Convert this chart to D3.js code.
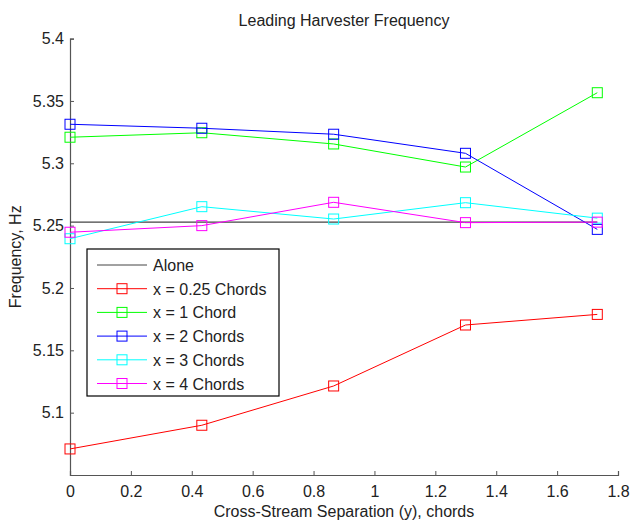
<!DOCTYPE html>
<html>
<head>
<meta charset="utf-8">
<script src="https://cdn.jsdelivr.net/npm/d3@7"></script>
<style>
  body { margin: 0; background: #fff; }
  text { font-family: "Liberation Sans", Arial, sans-serif; fill: #222; }
</style>
</head>
<body>
<div id="chart"></div>
<script>
// Data
const separation = [0, 0.433, 0.866, 1.299, 1.732];
const alone = 5.2528;
const seriesNames = ["x = 0.25 Chords", "x = 1 Chord", "x = 2 Chords", "x = 3 Chords", "x = 4 Chords"];
const seriesColors = ["#ff0000", "#00ff00", "#0000ff", "#00ffff", "#ff00ff"];
const x025 = [5.0709, 5.0899, 5.1214, 5.1703, 5.1788];
const x1 = [5.3209, 5.3245, 5.3155, 5.2970, 5.3566];
const x2 = [5.3313, 5.3281, 5.3233, 5.3080, 5.2470];
const x3 = [5.2395, 5.2652, 5.2553, 5.2684, 5.2560];
const x4 = [5.2447, 5.2500, 5.2687, 5.2524, 5.2528];
const seriesValues = [x025, x1, x2, x3, x4];
const xTicks = [0, 0.2, 0.4, 0.6, 0.8, 1, 1.2, 1.4, 1.6, 1.8];
const yTicks = [5.1, 5.15, 5.2, 5.25, 5.3, 5.35, 5.4];

// Dimensions
const W = 634, H = 523;
const margin = { top: 38.6, right: 16, bottom: 48, left: 70 };
const width = W - margin.left - margin.right;
const height = H - margin.top - margin.bottom;
const fontSize = "16px";

const svg = d3.select("#chart").append("svg")
    .attr("width", W)
    .attr("height", H);

const g = svg.append("g")
    .attr("transform", `translate(${margin.left},${margin.top})`);

// Scales
const x = d3.scaleLinear().domain([0, 1.8]).range([0, width]);
const y = d3.scaleLinear().domain([5.05, 5.4]).range([height, 0]);

// Axes (ticks pointing inward, MATLAB style)
const xAxis = g.append("g")
    .attr("transform", `translate(0,${height})`)
    .call(d3.axisBottom(x).tickValues(xTicks).tickSize(-4).tickPadding(8)
        .tickFormat(d => d3.format("~g")(d)));
const yAxis = g.append("g")
    .call(d3.axisLeft(y).tickValues(yTicks).tickSize(-4).tickPadding(6)
        .tickFormat(d => d3.format("~g")(d)));

[xAxis, yAxis].forEach(a => {
    a.select(".domain").attr("stroke", "#555").attr("stroke-width", 1.2);
    a.selectAll(".tick line").attr("stroke", "#555");
    a.selectAll(".tick text").style("font-size", fontSize).attr("fill", "#222");
});
xAxis.selectAll(".tick text").attr("dy", "0.85em");

// Alone reference line
g.append("line")
    .attr("x1", x(separation[0]))
    .attr("x2", x(separation[separation.length - 1]))
    .attr("y1", y(alone))
    .attr("y2", y(alone))
    .attr("stroke", "#444")
    .attr("stroke-width", 1.2);

// Series
const line = d3.line().x((d, i) => x(separation[i])).y(d => y(d));
const ms = 10;

seriesValues.forEach((vals, k) => {
    const s = g.append("g");
    s.append("path")
        .datum(vals)
        .attr("d", line)
        .attr("fill", "none")
        .attr("stroke", seriesColors[k])
        .attr("stroke-width", 1);
    s.selectAll("rect")
        .data(vals)
        .enter().append("rect")
        .attr("x", (d, i) => x(separation[i]) - ms / 2)
        .attr("y", d => y(d) - ms / 2)
        .attr("width", ms)
        .attr("height", ms)
        .attr("fill", "none")
        .attr("stroke", seriesColors[k])
        .attr("stroke-width", 1);
});

// Title and labels
svg.append("text")
    .attr("x", margin.left + width / 2)
    .attr("y", 26)
    .attr("text-anchor", "middle")
    .style("font-size", fontSize)
    .text("Leading Harvester Frequency");

svg.append("text")
    .attr("x", margin.left + width / 2)
    .attr("y", 517)
    .attr("text-anchor", "middle")
    .style("font-size", fontSize)
    .text("Cross-Stream Separation (y), chords");

svg.append("text")
    .attr("transform", `translate(21,${margin.top + height / 2}) rotate(-90)`)
    .attr("text-anchor", "middle")
    .style("font-size", fontSize)
    .text("Frequency, Hz");

// Legend
const legend = svg.append("g").attr("transform", "translate(87,249)");
legend.append("rect")
    .attr("x", 0).attr("y", 0)
    .attr("width", 192).attr("height", 147)
    .attr("fill", "#fff")
    .attr("stroke", "#000")
    .attr("stroke-width", 1.2);

const legendNames = ["Alone"].concat(seriesNames);
const legendColors = ["#444"].concat(seriesColors);
legendNames.forEach((name, i) => {
    const ly = 16 + i * 23.7;
    legend.append("line")
        .attr("x1", 10).attr("x2", 60)
        .attr("y1", ly).attr("y2", ly)
        .attr("stroke", legendColors[i])
        .attr("stroke-width", 1);
    if (i > 0) {
        legend.append("rect")
            .attr("x", 35 - ms / 2).attr("y", ly - ms / 2)
            .attr("width", ms).attr("height", ms)
            .attr("fill", "none")
            .attr("stroke", legendColors[i]);
    }
    legend.append("text")
        .attr("x", 66).attr("y", ly + 6)
        .style("font-size", fontSize)
        .text(name);
});
</script>
</body>
</html>
